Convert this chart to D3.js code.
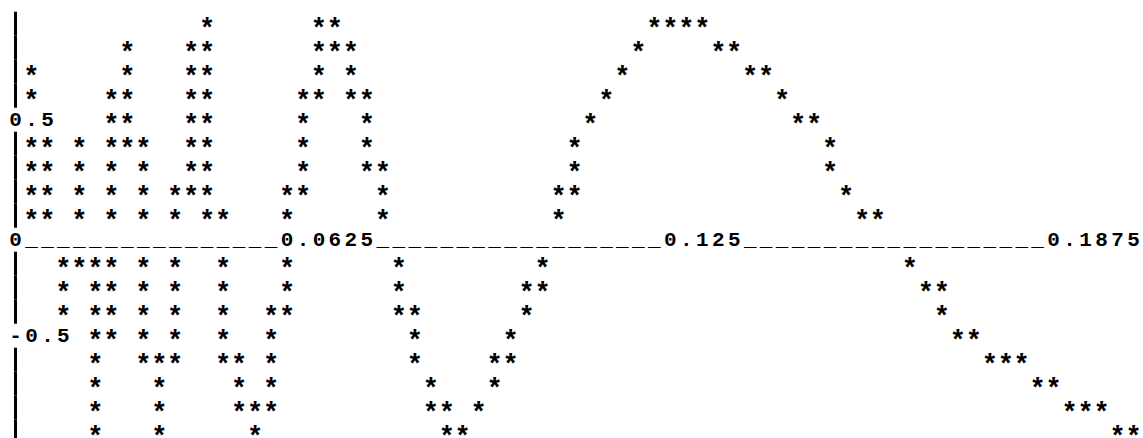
<!DOCTYPE html>
<html lang="en">
  <head>
    <meta charset="UTF-8" />
    <script src="https://d3js.org/d3.v7.min.js"></script>
    <style>
      body { margin: 0; background: #fff; }
      text { font-family: "Liberation Mono", "Courier New", monospace; font-weight: bold; font-size: 21px; }
      text.star { font-size: 27px; }
    </style>
  </head>

  <body>
    <script>
      var width = 1143,
        height = 438;

      // star columns for each text row above the axis (top to bottom)
      var starsAbove = [
        [12, 19, 20, 40, 41, 42, 43],
        [7, 11, 12, 19, 20, 21, 39, 44, 45],
        [1, 7, 11, 12, 19, 21, 38, 46, 47],
        [1, 6, 7, 11, 12, 18, 19, 21, 22, 37, 48],
        [6, 7, 11, 12, 18, 22, 36, 49, 50],
        [1, 2, 4, 6, 7, 8, 11, 12, 18, 22, 35, 51],
        [1, 2, 4, 6, 8, 11, 12, 18, 22, 23, 35, 51],
        [1, 2, 4, 6, 8, 10, 11, 12, 17, 18, 23, 34, 35, 52],
        [1, 2, 4, 6, 8, 10, 12, 13, 17, 23, 34, 53, 54]
      ];
      // star columns for each text row below the axis
      var starsBelow = [
        [3, 4, 5, 6, 8, 10, 13, 17, 24, 33, 56],
        [3, 5, 6, 8, 10, 13, 17, 24, 32, 33, 57, 58],
        [3, 5, 6, 8, 10, 13, 16, 17, 24, 25, 32, 58],
        [5, 6, 8, 10, 13, 16, 25, 31, 59, 60],
        [5, 8, 9, 10, 13, 14, 16, 25, 30, 31, 61, 62, 63],
        [5, 9, 14, 16, 26, 30, 64, 65],
        [5, 9, 14, 15, 16, 26, 27, 29, 66, 67, 68],
        [5, 9, 15, 27, 28, 69, 70]
      ];

      var xTickValues = [0, 0.0625, 0.125, 0.1875];
      var xTickLabels = ["0", "0.0625", "0.125", "0.1875"];
      var yTickValues = [0.5, -0.5];
      var yTickLabels = ["0.5", "-0.5"];

      var nCols = 71,
        axisRow = starsAbove.length,
        nRows = starsAbove.length + 1 + starsBelow.length;

      // text grid -> pixels (baselines)
      var x = d3.scaleLinear().domain([0, nCols - 1]).range([15.5, 1133.5]);
      var y = d3.scaleLinear().domain([0, nRows - 1]).range([29.7, 29.7 + 24 * (nRows - 1)]);

      // values -> grid cells
      var tCol = d3.scaleLinear().domain([0.0625, 0.1875]).range([17, 65]);
      var vRow = d3.scaleLinear().domain([1, -1]).range([0, 2 * axisRow]);

      var svg = d3
        .select("body")
        .append("svg")
        .attr("width", width)
        .attr("height", height);

      // build character grid
      var cells = [];
      starsAbove.forEach(function (cols, r) {
        cols.forEach(function (c) {
          cells.push({ row: r, col: c, ch: "*" });
        });
      });
      starsBelow.forEach(function (cols, r) {
        cols.forEach(function (c) {
          cells.push({ row: axisRow + 1 + r, col: c, ch: "*" });
        });
      });

      // x axis row: labels and underscores
      var used = {};
      xTickValues.forEach(function (v, i) {
        var start = Math.max(0, Math.round(tCol(v)));
        xTickLabels[i].split("").forEach(function (ch, k) {
          used[start + k] = true;
          cells.push({ row: axisRow, col: start + k, ch: ch });
        });
      });
      d3.range(nCols).forEach(function (c) {
        if (!used[c]) cells.push({ row: axisRow, col: c, ch: "_" });
      });

      // y labels
      var labelRows = {};
      labelRows[axisRow] = true;
      yTickValues.forEach(function (v, i) {
        var r = Math.floor(vRow(v));
        labelRows[r] = true;
        yTickLabels[i].split("").forEach(function (ch, k) {
          cells.push({ row: r, col: k, ch: ch });
        });
      });

      // vertical bar in column 0
      var barRows = d3.range(nRows).filter(function (r) {
        return !labelRows[r];
      });
      svg
        .append("g")
        .selectAll("line")
        .data(barRows)
        .enter()
        .append("line")
        .attr("x1", x(0))
        .attr("x2", x(0))
        .attr("y1", function (r) {
          return y(r) - 18;
        })
        .attr("y2", function (r) {
          return y(r) + 6;
        })
        .attr("stroke", "#000")
        .attr("stroke-width", 3);

      svg
        .append("g")
        .selectAll("text")
        .data(cells)
        .enter()
        .append("text")
        .attr("class", function (d) {
          return d.ch === "*" ? "star" : null;
        })
        .attr("x", function (d) {
          return x(d.col);
        })
        .attr("y", function (d) {
          return d.ch === "*" ? y(d.row) + 7 : y(d.row);
        })
        .attr("text-anchor", "middle")
        .text(function (d) {
          return d.ch;
        });
    </script>
  </body>
</html>
